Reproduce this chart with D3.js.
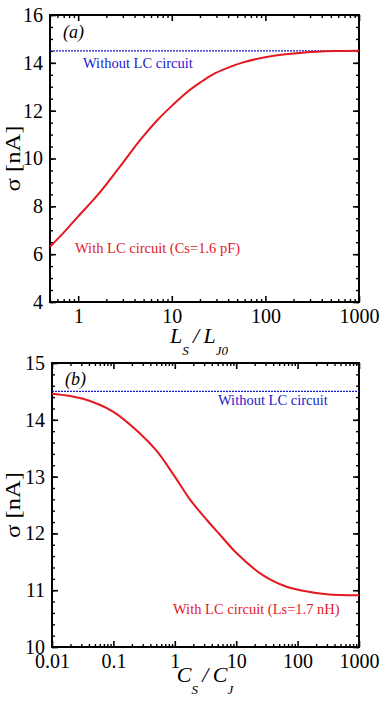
<!DOCTYPE html>
<html>
<head>
<meta charset="utf-8">
<script src="https://cdn.jsdelivr.net/npm/d3@7"></script>
<style>
  html, body { margin: 0; padding: 0; background: #fff; }
  svg { display: block; font-family: "Liberation Serif", "DejaVu Serif", serif; }
</style>
</head>
<body>
<svg id="chart" width="382" height="702"></svg>
<script>
// panel (a): sigma vs Ls/LJ0
const lsRatio = [0.5, 0.7, 1, 1.5, 2, 3, 4.7, 7, 10, 14, 20, 27, 40, 58, 123, 263, 537, 1000];
const sigmaA = [6.31, 6.9, 7.58, 8.33, 8.92, 9.82, 10.82, 11.6, 12.2, 12.72, 13.17, 13.5, 13.8, 14.02, 14.3, 14.43, 14.49, 14.51];

// panel (b): sigma vs Cs/CJ
const csRatio = [0.01, 0.032, 0.1, 0.27, 0.5, 1, 1.76, 3.3, 5.4, 10, 27.5, 66, 110, 300, 1000];
const sigmaB = [14.46, 14.37, 14.14, 13.76, 13.46, 13.0, 12.6, 12.24, 11.98, 11.66, 11.26, 11.06, 11.0, 10.93, 10.91];

// reference level without LC circuit
const sigmaNoLC = 14.5;

const xTicksA = [1, 10, 100, 1000];
const yTicksA = [4, 6, 8, 10, 12, 14, 16];
const xTicksB = [0.01, 0.1, 1, 10, 100, 1000];
const yTicksB = [10, 11, 12, 13, 14, 15];

const svg = d3.select("#chart");
const red = "#e3191f";
const blue = "#1a1ad0";

// log minor ticks 2..9 in each decade
function logMinors(lo, hi) {
  const out = [];
  for (let e = Math.floor(Math.log10(lo)); e < Math.ceil(Math.log10(hi)); e++) {
    for (let m = 2; m <= 9; m++) {
      const v = m * Math.pow(10, e);
      if (v >= lo && v <= hi) out.push(v);
    }
  }
  return out;
}

function linMinors(lo, hi, step) {
  const out = [];
  const n = Math.round((hi - lo) / step);
  for (let i = 0; i <= n; i++) out.push(lo + i * step);
  return out;
}

function drawPanel(opt) {
  const x = d3.scaleLog().domain(opt.xDomain).range([opt.left, opt.right]);
  const y = d3.scaleLinear().domain(opt.yDomain).range([opt.bottom, opt.top]);
  const g = svg.append("g");
  const w = opt.right - opt.left;
  const h = opt.bottom - opt.top;

  const fmtX = (d) => d3.format("~g")(d);

  // major ticks, pointing inward on all four sides
  const axes = [
    [d3.axisBottom(x).tickValues(opt.xTicks).tickFormat(fmtX), `translate(0,${opt.bottom})`, true],
    [d3.axisTop(x).tickValues(opt.xTicks).tickFormat(""), `translate(0,${opt.top})`, false],
    [d3.axisLeft(y).tickValues(opt.yTicks).tickFormat(d3.format("d")), `translate(${opt.left},0)`, true],
    [d3.axisRight(y).tickValues(opt.yTicks).tickFormat(""), `translate(${opt.right},0)`, false],
  ];
  axes.forEach(([ax, tr, lab]) => {
    const a = g.append("g").attr("transform", tr)
      .call(ax.tickSizeInner(-6).tickSizeOuter(0).tickPadding(lab ? 7 : 0));
    a.select(".domain").remove();
    a.selectAll("line").attr("stroke", "#000").attr("stroke-width", 1.6);
    a.selectAll("text").attr("font-size", 20).attr("font-family", "Liberation Serif").attr("fill", "#000");
  });

  // minor ticks
  const xMin = logMinors(opt.xDomain[0], opt.xDomain[1]);
  const yMin = linMinors(opt.yDomain[0], opt.yDomain[1], opt.yMinor);
  const minorAxes = [
    [d3.axisBottom(x).tickValues(xMin), `translate(0,${opt.bottom})`],
    [d3.axisTop(x).tickValues(xMin), `translate(0,${opt.top})`],
    [d3.axisLeft(y).tickValues(yMin), `translate(${opt.left},0)`],
    [d3.axisRight(y).tickValues(yMin), `translate(${opt.right},0)`],
  ];
  minorAxes.forEach(([ax, tr]) => {
    const a = g.append("g").attr("transform", tr)
      .call(ax.tickFormat("").tickSizeInner(-3).tickSizeOuter(0));
    a.select(".domain").remove();
    a.selectAll("line").attr("stroke", "#000").attr("stroke-width", 1.4);
  });

  // frame
  g.append("rect")
    .attr("x", opt.left).attr("y", opt.top)
    .attr("width", w).attr("height", h)
    .attr("fill", "none").attr("stroke", "#000").attr("stroke-width", 2);

  // without LC (dotted blue)
  g.append("line")
    .attr("x1", opt.left).attr("x2", opt.right)
    .attr("y1", y(sigmaNoLC)).attr("y2", y(sigmaNoLC))
    .attr("stroke", blue).attr("stroke-width", 1.4)
    .attr("stroke-dasharray", "2,1");

  // with LC (red curve)
  const line = d3.line()
    .x((d) => x(d[0]))
    .y((d) => y(d[1]))
    .curve(d3.curveCatmullRom.alpha(0.5));
  g.append("path")
    .datum(d3.zip(opt.xs, opt.ys))
    .attr("d", line)
    .attr("fill", "none")
    .attr("stroke", red)
    .attr("stroke-width", 2);

  // panel tag
  g.append("text")
    .attr("x", opt.tag[1]).attr("y", opt.tag[2])
    .attr("font-size", 18).attr("font-style", "italic")
    .text(opt.tag[0]);

  g.append("text")
    .attr("x", opt.blueLab[0]).attr("y", opt.blueLab[1])
    .attr("font-size", 14.5).attr("fill", blue)
    .text("Without LC circuit");

  g.append("text")
    .attr("x", opt.redLab[1]).attr("y", opt.redLab[2])
    .attr("font-size", 14.5).attr("fill", red)
    .text(opt.redLab[0]);

  // y axis title
  g.append("text")
    .attr("transform", `translate(20,${(opt.top + opt.bottom) / 2}) rotate(-90)`)
    .attr("text-anchor", "middle")
    .attr("font-size", 20)
    .attr("textLength", 66)
    .attr("lengthAdjust", "spacingAndGlyphs")
    .text("σ [nA]");

  // x axis title with subscripts
  const xt = g.append("text")
    .attr("x", opt.xTitle.cx).attr("y", opt.xTitle.y)
    .attr("text-anchor", "middle")
    .attr("font-size", 22)
    .attr("font-style", "italic");
  xt.append("tspan").text(opt.xTitle.a);
  xt.append("tspan").attr("font-size", 13).attr("dy", 12).text(opt.xTitle.aSub);
  xt.append("tspan").attr("dy", -12).text("\u2009/\u2009");
  xt.append("tspan").text(opt.xTitle.b);
  xt.append("tspan").attr("font-size", 13).attr("dy", 12).text(opt.xTitle.bSub);
}

drawPanel({
  xDomain: [0.5, 1000], yDomain: [4, 16],
  left: 50, right: 359, top: 15, bottom: 302,
  xTicks: xTicksA, yTicks: yTicksA, yMinor: 0.5,
  xs: lsRatio, ys: sigmaA,
  tag: ["(a)", 63, 38],
  blueLab: [83, 68],
  redLab: ["With LC circuit (Cs=1.6 pF)", 75, 253],
  xTitle: { cx: 199, y: 343, a: "L", aSub: "S", b: "L", bSub: "J0" },
});

drawPanel({
  xDomain: [0.01, 1000], yDomain: [10, 15],
  left: 52, right: 359, top: 363, bottom: 647,
  xTicks: xTicksB, yTicks: yTicksB, yMinor: 0.2,
  xs: csRatio, ys: sigmaB,
  tag: ["(b)", 65, 385],
  blueLab: [218, 405],
  redLab: ["With LC circuit (Ls=1.7 nH)", 173, 614],
  xTitle: { cx: 205, y: 682, a: "C", aSub: "S", b: "C", bSub: "J" },
});
</script>
</body>
</html>
